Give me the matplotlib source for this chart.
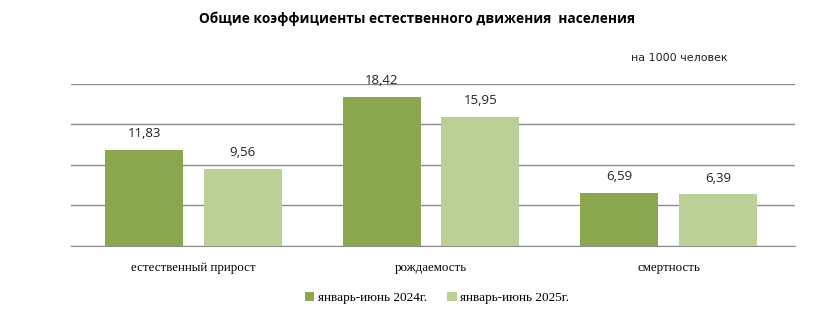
import numpy as np
import matplotlib.pyplot as plt

categories = ['естественный прирост', 'рождаемость', 'смертность']
series_names = ['январь-июнь 2024г.', 'январь-июнь 2025г.']
values_2024 = [11.83, 18.42, 6.59]
values_2025 = [9.56, 15.95, 6.39]

dark_green = '#8AA64E'
light_green = '#BBD097'
grid_gray = '#8C8C8C'

fig = plt.figure(figsize=(8.19, 3.34), dpi=100)
ax = fig.add_axes([0.0867, 0.2635, 0.884, 0.485])

x = np.arange(len(categories))
width = 0.328
off = 0.208
b1 = ax.bar(x - off, values_2024, width, color=dark_green, label=series_names[0], zorder=3)
b2 = ax.bar(x + off, values_2025, width, color=light_green, label=series_names[1], zorder=3)

for bars, vals in ((b1, values_2024), (b2, values_2025)):
    for rect, v in zip(bars, vals):
        ax.text(rect.get_x() + rect.get_width() / 2, v + 1.2, f'{v:.2f}'.replace('.', ','),
                ha='center', va='bottom', fontsize=9.5, family='Open Sans', color='#222222')

ax.set_xlim(-0.516, 2.533)
ax.set_ylim(0, 20)
ax.set_yticks([0, 5, 10, 15, 20])
ax.yaxis.grid(True, color=grid_gray, linewidth=1, zorder=0)
ax.tick_params(left=False, labelleft=False, bottom=False)
for s in ['top', 'right', 'left']:
    ax.spines[s].set_visible(False)
ax.spines['bottom'].set_color(grid_gray)
ax.set_xticks(x)
ax.set_xticklabels(categories, family='Liberation Serif', fontsize=9.3)
ax.tick_params(axis='x', pad=8)

fig.text(0.509, 0.945, 'Общие коэффициенты естественного движения  населения',
         ha='center', va='center', fontsize=9.8, fontweight='bold', family='Open Sans')
fig.text(0.83, 0.826, 'на 1000 человек', ha='center', va='center', fontsize=8,
         family='Liberation Sans Narrow', color='#222222')

fig.legend(loc='center', bbox_to_anchor=(0.534, 0.108), ncol=2, frameon=False,
           prop={'family': 'Liberation Serif', 'size': 9.5},
           handlelength=0.7, handleheight=0.7, handletextpad=0.3, columnspacing=1.5)

fig.savefig('out.png', dpi=100)
